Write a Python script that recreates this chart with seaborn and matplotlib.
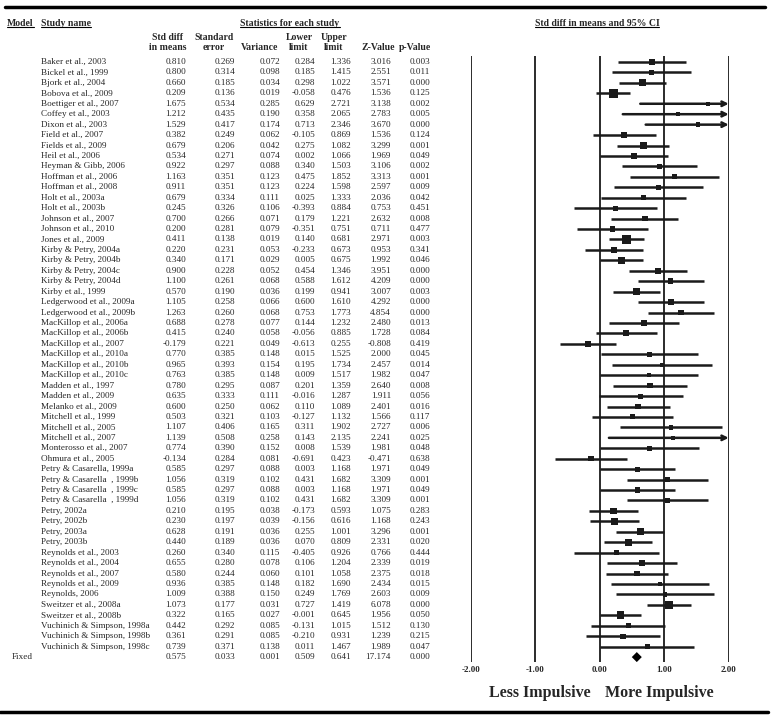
import numpy as np
import pandas as pd
import matplotlib
matplotlib.use("Agg")
import matplotlib.pyplot as plt
import seaborn as sns
from matplotlib.lines import Line2D

# study data
studies = [
    "Baker et al., 2003", "Bickel et al., 1999", "Bjork et al., 2004", "Bobova et al., 2009",
    "Boettiger et al., 2007", "Coffey et al., 2003", "Dixon et al., 2003", "Field et al., 2007",
    "Fields et al., 2009", "Heil et al., 2006", "Heyman & Gibb, 2006", "Hoffman et al., 2006",
    "Hoffman et al., 2008", "Holt et al., 2003a", "Holt et al., 2003b", "Johnson et al., 2007",
    "Johnson et al., 2010", "Jones et al., 2009", "Kirby & Petry, 2004a", "Kirby & Petry, 2004b",
    "Kirby & Petry, 2004c", "Kirby & Petry, 2004d", "Kirby et al., 1999", "Ledgerwood et al., 2009a",
    "Ledgerwood et al., 2009b", "MacKillop et al., 2006a", "MacKillop et al., 2006b",
    "MacKillop et al., 2007", "MacKillop et al., 2010a", "MacKillop et al., 2010b",
    "MacKillop et al., 2010c", "Madden et al., 1997", "Madden et al., 2009", "Melanko et al., 2009",
    "Mitchell et al., 1999", "Mitchell et al., 2005", "Mitchell et al., 2007",
    "Monterosso et al., 2007", "Ohmura et al., 2005", "Petry & Casarella, 1999a",
    "Petry & Casarella  , 1999b", "Petry & Casarella  , 1999c", "Petry & Casarella  , 1999d",
    "Petry, 2002a", "Petry, 2002b", "Petry, 2003a", "Petry, 2003b", "Reynolds et al., 2003",
    "Reynolds et al., 2004", "Reynolds et al., 2007", "Reynolds et al., 2009", "Reynolds, 2006",
    "Sweitzer et al., 2008a", "Sweitzer et al., 2008b", "Vuchinich & Simpson, 1998a",
    "Vuchinich & Simpson, 1998b", "Vuchinich & Simpson, 1998c",
]
smd = [0.810, 0.800, 0.660, 0.209, 1.675, 1.212, 1.529, 0.382, 0.679, 0.534, 0.922, 1.163,
       0.911, 0.679, 0.245, 0.700, 0.200, 0.411, 0.220, 0.340, 0.900, 1.100, 0.570, 1.105,
       1.263, 0.688, 0.415, -0.179, 0.770, 0.965, 0.763, 0.780, 0.635, 0.600, 0.503, 1.107,
       1.139, 0.774, -0.134, 0.585, 1.056, 0.585, 1.056, 0.210, 0.230, 0.628, 0.440, 0.260,
       0.655, 0.580, 0.936, 1.009, 1.073, 0.322, 0.442, 0.361, 0.739]
se = [0.269, 0.314, 0.185, 0.136, 0.534, 0.435, 0.417, 0.249, 0.206, 0.271, 0.297, 0.351,
      0.351, 0.334, 0.326, 0.266, 0.281, 0.138, 0.231, 0.171, 0.228, 0.261, 0.190, 0.258,
      0.260, 0.278, 0.240, 0.221, 0.385, 0.393, 0.385, 0.295, 0.333, 0.250, 0.321, 0.406,
      0.508, 0.390, 0.284, 0.297, 0.319, 0.297, 0.319, 0.195, 0.197, 0.191, 0.189, 0.340,
      0.280, 0.244, 0.385, 0.388, 0.177, 0.165, 0.292, 0.291, 0.371]
variance = [0.072, 0.098, 0.034, 0.019, 0.285, 0.190, 0.174, 0.062, 0.042, 0.074, 0.088, 0.123,
            0.123, 0.111, 0.106, 0.071, 0.079, 0.019, 0.053, 0.029, 0.052, 0.068, 0.036, 0.066,
            0.068, 0.077, 0.058, 0.049, 0.148, 0.154, 0.148, 0.087, 0.111, 0.062, 0.103, 0.165,
            0.258, 0.152, 0.081, 0.088, 0.102, 0.088, 0.102, 0.038, 0.039, 0.036, 0.036, 0.115,
            0.078, 0.060, 0.148, 0.150, 0.031, 0.027, 0.085, 0.085, 0.138]
lower = [0.284, 0.185, 0.298, -0.058, 0.629, 0.358, 0.713, -0.105, 0.275, 0.002, 0.340, 0.475,
         0.224, 0.025, -0.393, 0.179, -0.351, 0.140, -0.233, 0.005, 0.454, 0.588, 0.199, 0.600,
         0.753, 0.144, -0.056, -0.613, 0.015, 0.195, 0.009, 0.201, -0.016, 0.110, -0.127, 0.311,
         0.143, 0.008, -0.691, 0.003, 0.431, 0.003, 0.431, -0.173, -0.156, 0.255, 0.070, -0.405,
         0.106, 0.101, 0.182, 0.249, 0.727, -0.001, -0.131, -0.210, 0.011]
upper = [1.336, 1.415, 1.022, 0.476, 2.721, 2.065, 2.346, 0.869, 1.082, 1.066, 1.503, 1.852,
         1.598, 1.333, 0.884, 1.221, 0.751, 0.681, 0.673, 0.675, 1.346, 1.612, 0.941, 1.610,
         1.773, 1.232, 0.885, 0.255, 1.525, 1.734, 1.517, 1.359, 1.287, 1.089, 1.132, 1.902,
         2.135, 1.539, 0.423, 1.168, 1.682, 1.168, 1.682, 0.593, 0.616, 1.001, 0.809, 0.926,
         1.204, 1.058, 1.690, 1.769, 1.419, 0.645, 1.015, 0.931, 1.467]
zval = [3.016, 2.551, 3.571, 1.536, 3.138, 2.783, 3.670, 1.536, 3.299, 1.969, 3.106, 3.313,
        2.597, 2.036, 0.753, 2.632, 0.711, 2.971, 0.953, 1.992, 3.951, 4.209, 3.007, 4.292,
        4.854, 2.480, 1.728, -0.808, 2.000, 2.457, 1.982, 2.640, 1.911, 2.401, 1.566, 2.727,
        2.241, 1.981, -0.471, 1.971, 3.309, 1.971, 3.309, 1.075, 1.168, 3.296, 2.331, 0.766,
        2.339, 2.375, 2.434, 2.603, 6.078, 1.956, 1.512, 1.239, 1.989]
pval = [0.003, 0.011, 0.000, 0.125, 0.002, 0.005, 0.000, 0.124, 0.001, 0.049, 0.002, 0.001,
        0.009, 0.042, 0.451, 0.008, 0.477, 0.003, 0.341, 0.046, 0.000, 0.000, 0.003, 0.000,
        0.000, 0.013, 0.084, 0.419, 0.045, 0.014, 0.047, 0.008, 0.056, 0.016, 0.117, 0.006,
        0.025, 0.048, 0.638, 0.049, 0.001, 0.049, 0.001, 0.283, 0.243, 0.001, 0.020, 0.444,
        0.019, 0.018, 0.015, 0.009, 0.000, 0.050, 0.130, 0.215, 0.047]

# fixed-effect summary
fixed = dict(smd=0.575, se=0.033, variance=0.001, lower=0.509, upper=0.641, z=17.174, p=0.000)

xticks = [-2, -1, 0, 1, 2]

df = pd.DataFrame(dict(study=studies, smd=smd, se=se, variance=variance,
                       lower=lower, upper=upper, z=zval, p=pval))
df["row"] = np.arange(len(df))
fixed_row = len(df)

sns.set_theme(style="white")
plt.rcParams["font.family"] = ["Liberation Serif", "DejaVu Serif"]

W, H = 772, 720
fig = plt.figure(figsize=(W / 100, H / 100), dpi=100)

# layout in pixels
top_px, bot_px, y0_px, dy_px = 56, 662, 62, 10.44
ylim = ((bot_px - y0_px) / dy_px, (top_px - y0_px) / dy_px)
ax_b = 1 - bot_px / H
ax_h = (bot_px - top_px) / H

ax_t = fig.add_axes([0, ax_b, 440 / W, ax_h])
ax_f = fig.add_axes([470.7 / W, ax_b, 258 / W, ax_h])
for a in (ax_t, ax_f):
    a.set_ylim(*ylim)
    for s in a.spines.values():
        s.set_visible(False)
ax_t.set_xlim(0, 440)
ax_t.axis("off")

fs = 6.6
# table body
cols = ["smd", "se", "variance", "lower", "upper", "z", "p"]
col_x = [186, 235, 280, 315, 351, 391, 430]
for _, r in df.iterrows():
    ax_t.text(40.7, r["row"], r["study"], fontsize=fs, ha="left", va="center")
    for c, x in zip(cols, col_x):
        ax_t.text(x, r["row"], f"{r[c]:.3f}", fontsize=fs, ha="right", va="center")
ax_t.text(12, fixed_row, "Fixed", fontsize=fs, ha="left", va="center")
for c, x in zip(cols, col_x):
    ax_t.text(x, fixed_row, f"{fixed[c]:.3f}", fontsize=fs, ha="right", va="center")

# headers
hy1 = (23 - y0_px) / dy_px
hyA = (38 - y0_px) / dy_px
hyB = (48 - y0_px) / dy_px
ul = []
ul.append(ax_t.text(7, hy1, "Model", fontsize=fs + 0.4, weight="bold", ha="left", va="center"))
ul.append(ax_t.text(40.7, hy1, "Study name", fontsize=fs + 0.4, weight="bold", ha="left", va="center"))
ul.append(ax_t.text(290, hy1, "Statistics for each study", fontsize=fs + 0.4, weight="bold",
                    ha="center", va="center"))
ul.append(ax_f.text(-0.04, hy1, "Std diff in means and 95% CI", fontsize=fs + 0.4, weight="bold",
                    ha="center", va="center"))
heads = [(168, "Std diff", "in means"), (214, "Standard", "error"), (260, None, "Variance"),
         (299, "Lower", "limit"), (334, "Upper", "limit"), (378, None, "Z-Value"),
         (415, None, "p-Value")]
for x, l1, l2 in heads:
    if l1:
        ax_t.text(x, hyA, l1, fontsize=fs + 0.4, weight="bold", ha="center", va="center")
    ax_t.text(x, hyB, l2, fontsize=fs + 0.4, weight="bold", ha="center", va="center")

# forest plot
for x in xticks:
    ax_f.axvline(x, color="#1a1a1a", lw=1.3, zorder=1)

inside = df[df["upper"] <= 2]
ax_f.hlines(inside["row"], inside["lower"], inside["upper"], color="#1a1a1a", lw=1.8, zorder=2)
for _, r in df[df["upper"] > 2].iterrows():
    ax_f.annotate("", xy=(2, r["row"]), xytext=(r["lower"], r["row"]),
                  arrowprops=dict(arrowstyle="->", color="#1a1a1a", lw=1.8,
                                  shrinkA=0, shrinkB=0, mutation_scale=8), zorder=2)

w = 1 / df["variance"]
side_px = 2.2 + 0.9 * np.sqrt(w)
sizes = (side_px * 0.72) ** 2
sns.scatterplot(data=df, x="smd", y="row", marker="s", s=sizes, color="#1a1a1a",
                edgecolor="none", linewidth=0, legend=False, ax=ax_f, zorder=3)
sns.scatterplot(x=[fixed["smd"]], y=[fixed_row], marker="D", s=26, color="black",
                edgecolor="none", legend=False, ax=ax_f, zorder=3)

ax_f.set_xlim(-2, 2)
ax_f.set_ylim(*ylim)
ax_f.set_xticks(xticks)
ax_f.set_xticklabels([f"{v:.2f}" for v in xticks], fontsize=6.5, weight="bold")
ax_f.tick_params(axis="x", length=0, pad=3)
ax_f.set_yticks([])
ax_f.set_xlabel("")
ax_f.set_ylabel("")

fig.text(590.7 / W, 1 - 693 / H, "Less Impulsive", fontsize=11.5, weight="bold",
         ha="right", va="center")
fig.text(605 / W, 1 - 693 / H, "More Impulsive", fontsize=11.5, weight="bold",
         ha="left", va="center")

# rules
fig.add_artist(Line2D([5 / W, 765 / W], [1 - 7 / H, 1 - 7 / H], color="black", lw=2.5,
                      transform=fig.transFigure))
fig.add_artist(Line2D([0 / W, 768 / W], [1 - 712 / H, 1 - 712 / H], color="black", lw=2.5,
                      transform=fig.transFigure))

# underline bold header texts
fig.canvas.draw()
rend = fig.canvas.get_renderer()
for t in ul:
    bb = t.get_window_extent(rend)
    yy = (bb.y0 + 0.5) / H
    fig.add_artist(Line2D([bb.x0 / W, bb.x1 / W], [yy, yy], color="black", lw=0.8,
                          transform=fig.transFigure))

fig.savefig("out.png", dpi=100)
